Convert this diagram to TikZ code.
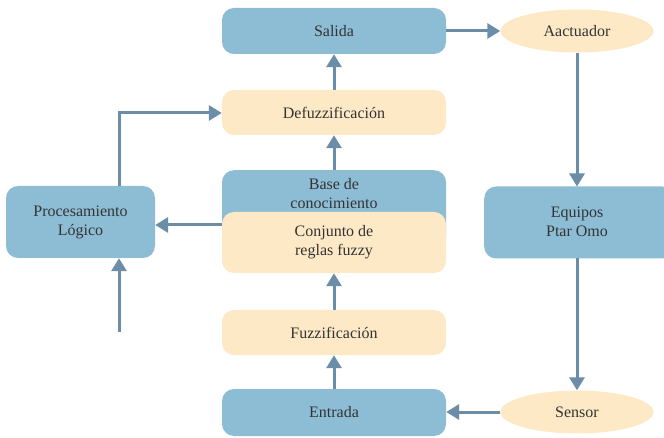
\documentclass[tikz,border=0pt]{standalone}
\usepackage{fontspec}
\setmainfont{Liberation Serif}
\usetikzlibrary{arrows.meta,shapes.geometric}
\definecolor{bbox}{HTML}{8DBDD5}
\definecolor{ybox}{HTML}{FDE9C6}
\definecolor{arr}{HTML}{6C8DA8}
\definecolor{txt}{HTML}{333333}
\begin{document}
\begin{tikzpicture}[x=1pt,y=-1pt,
  tfont/.style={font=\fontsize{16}{19}\selectfont},
  box/.style={rectangle,rounded corners=12pt,minimum width=224pt,inner sep=0pt,align=center,text=txt,tfont},
  bluebox/.style={box,fill=bbox},
  yelbox/.style={box,fill=ybox},
  ell/.style={ellipse,fill=ybox,minimum width=153pt,minimum height=43pt,inner sep=0pt,text=txt,tfont},
  conn/.style={draw=arr,line width=3pt,-{Triangle[width=15pt,length=13pt]}}]
\useasboundingbox (0,0) rectangle (664,438);
\fill[white] (0,0) rectangle (664,438);
\node[bluebox,minimum height=46pt] (sal) at (334,31) {Salida};
\node[ell] (act) at (577,31) {Aactuador};
\node[yelbox,minimum height=45pt] (def) at (334,112.5) {Defuzzificación};
\node[bluebox,minimum height=80pt,anchor=north] (base) at (334,170) {};
\node[text=txt,align=center,tfont] (basetxt) at (334,194) {Base de\\conocimiento};
\node[yelbox,minimum height=61pt] (conj) at (334,242.5) {Conjunto de\\reglas fuzzy};
\node[bluebox,minimum width=149pt,minimum height=72pt] (proc) at (80.5,222) {Procesamiento\\Lógico};
\node[bluebox,minimum width=190pt,minimum height=72pt,anchor=west] (equ) at (484,222.5) {};
\node[text=txt,align=center,tfont] (equtxt) at (577,222) {Equipos\\Ptar Omo};
\node[yelbox,minimum height=45pt] (fuz) at (334,332.5) {Fuzzificación};
\node[bluebox,minimum height=47pt] (ent) at (334,412.5) {Entrada};
\node[ell] (sen) at (577,412) {Sensor};
\coordinate (free) at (119,332);
\coordinate (corner) at (119,113);
\coordinate (eqtop) at (577,186.5);
\coordinate (eqbot) at (577,258.5);
\draw[conn] (sal.east) -- (act.west);
\draw[conn] (act.south) -- (eqtop);
\draw[conn] (eqbot) -- (sen.north);
\draw[conn] (sen.west) -- (ent.east |- sen.west);
\draw[conn] (ent.north) -- (fuz.south);
\draw[conn] (fuz.north) -- (conj.south);
\draw[conn] (base.north) -- (def.south);
\draw[conn] (def.north) -- (sal.south);
\draw[conn] (conj.west |- 0,225) -- (proc.east |- 0,225);
\draw[conn] (free) -- (free |- proc.south);
\draw[conn] (corner |- proc.north) -- (corner) -- (def.west |- corner);
\end{tikzpicture}
\end{document}
